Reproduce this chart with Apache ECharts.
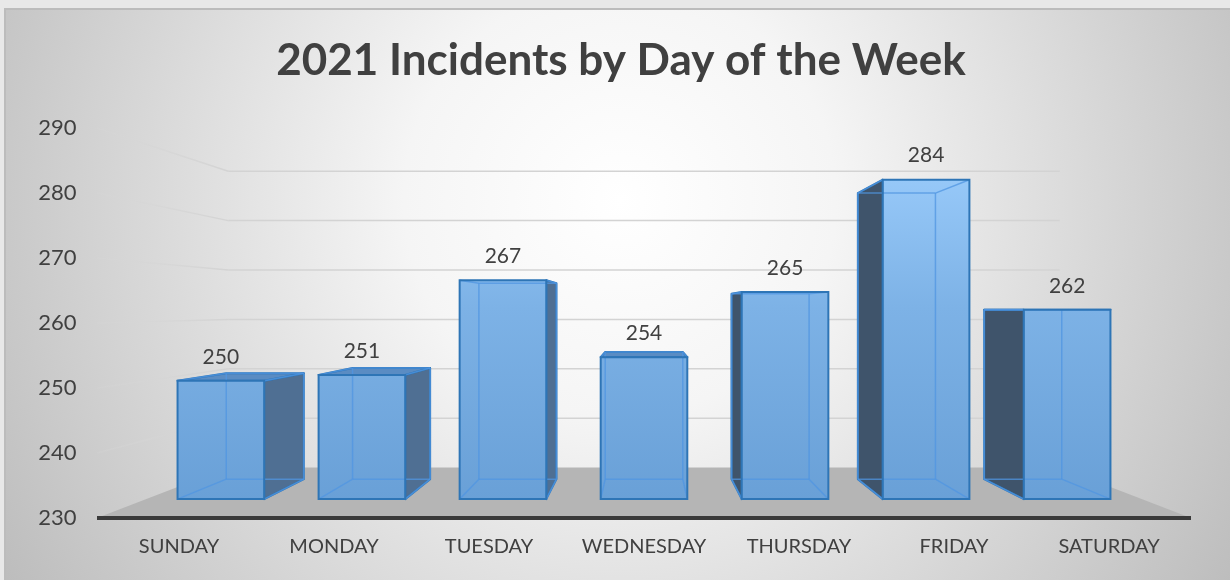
<!DOCTYPE html>
<html>
<head>
<meta charset="UTF-8"/>
<title>2021 Incidents by Day of the Week</title>
<script src="https://cdn.jsdelivr.net/npm/echarts@6/dist/echarts.min.js"></script>
<style>
  html, body { margin: 0; padding: 0; background: #e8e8e8; }
  #chart { width: 1230px; height: 580px; }
</style>
</head>
<body>
<div id="chart"></div>
<script>
// data
var days = ['SUNDAY', 'MONDAY', 'TUESDAY', 'WEDNESDAY', 'THURSDAY', 'FRIDAY', 'SATURDAY'];
var incidents = [250, 251, 267, 254, 265, 284, 262];
var yTicks = [230, 240, 250, 260, 270, 280, 290];

// fake 3d: one vanishing point, every depth is a scale toward it
var EYE_CAT = 3;        // middle category
var EYE_VALUE = 262.3;  // eye height, in axis units
var K_FRONT = 0.91;     // bar front face
var K_BACK = 0.815;     // bar back face
var K_WALL = 0.76;      // back wall
var FONT = 'Lato, "Open Sans", sans-serif';

function proj(vp, x, y, k) {
  return [vp[0] + (x - vp[0]) * k, vp[1] + (y - vp[1]) * k];
}

function renderFloor(params, api) {
  var band = api.size([1, 0])[0];
  var vp = api.coord([EYE_CAT, EYE_VALUE]);
  var x0 = api.coord([0, yTicks[0]])[0] - band / 2 - 4.5;
  var x1 = api.coord([days.length - 1, yTicks[0]])[0] + band / 2 + 4.5;
  var yb = api.coord([0, yTicks[0]])[1];
  var children = [];
  yTicks.slice(1).forEach(function (v) {
    var y = api.coord([0, v])[1];
    var a = proj(vp, x0, y, K_WALL), b = proj(vp, x1, y, K_WALL);
    children.push({
      type: 'polyline',
      shape: { points: [[x0, y], a] },
      style: {
        fill: null, lineWidth: 1.5,
        stroke: new echarts.graphic.LinearGradient(x0, 0, a[0], 0, [
          { offset: 0, color: 'rgba(215,215,215,0.2)' },
          { offset: 1, color: '#d3d3d3' }
        ], true)
      }
    });
    children.push({
      type: 'line',
      shape: { x1: a[0], y1: a[1], x2: b[0], y2: b[1] },
      style: { stroke: '#d3d3d3', lineWidth: 1.5 }
    });
  });
  var bl = proj(vp, x0, yb, K_WALL), br = proj(vp, x1, yb, K_WALL);
  children.push({
    type: 'polygon',
    shape: { points: [[x0, yb], bl, br, [x1, yb]] },
    style: { fill: '#b5b5b5' }
  });
  children.push({
    type: 'line',
    shape: { x1: x0, y1: yb, x2: x1, y2: yb },
    style: { stroke: '#3a3a3a', lineWidth: 4 }
  });
  return { type: 'group', children: children };
}

var frontFill = new echarts.graphic.LinearGradient(0, 150, 0, 500, [
  { offset: 0, color: '#9ccdfc' },
  { offset: 0.45, color: '#7db2e6' },
  { offset: 1, color: '#69a0d7' }
], true);

function renderBar(params, api) {
  var cat = api.value(0), val = api.value(1);
  var band = api.size([1, 0])[0];
  var hw = band * 0.307;
  var top = api.coord([cat, val]);
  var base = api.coord([cat, yTicks[0]]);
  var vp = api.coord([EYE_CAT, EYE_VALUE]);
  var xl = top[0] - hw, xr = top[0] + hw;
  function box(k) {
    return {
      tl: proj(vp, xl, top[1], k), tr: proj(vp, xr, top[1], k),
      br: proj(vp, xr, base[1], k), bl: proj(vp, xl, base[1], k)
    };
  }
  var F = box(K_FRONT), B = box(K_BACK);
  var edge = '#2e75b6';
  var children = [];

  if (top[0] < vp[0] - 1) {
    children.push({
      type: 'polygon',
      shape: { points: [F.tr, B.tr, B.br, F.br] },
      style: { fill: '#4f6f93', stroke: edge, lineWidth: 2, lineJoin: 'round' }
    });
  } else if (top[0] > vp[0] + 1) {
    children.push({
      type: 'polygon',
      shape: { points: [F.tl, B.tl, B.bl, F.bl] },
      style: { fill: '#3f546b', stroke: edge, lineWidth: 2, lineJoin: 'round' }
    });
  }
  if (val < EYE_VALUE) {
    children.push({
      type: 'polygon',
      shape: { points: [F.tl, F.tr, B.tr, B.tl] },
      style: { fill: '#5a8cc3', stroke: edge, lineWidth: 2, lineJoin: 'round' }
    });
  }
  children.push({
    type: 'polygon',
    shape: { points: [F.tl, F.tr, F.br, F.bl] },
    style: { fill: frontFill }
  });
  // edges seen through the front face
  var hidden = [[B.tl, B.tr], [B.tr, B.br], [B.br, B.bl], [B.bl, B.tl],
                [F.tl, B.tl], [F.tr, B.tr], [F.br, B.br], [F.bl, B.bl]];
  hidden.forEach(function (s) {
    children.push({
      type: 'line',
      shape: { x1: s[0][0], y1: s[0][1], x2: s[1][0], y2: s[1][1] },
      style: { stroke: 'rgba(80,150,225,0.75)', lineWidth: 1.5 }
    });
  });
  children.push({
    type: 'polygon',
    shape: { points: [F.tl, F.tr, F.br, F.bl] },
    style: { fill: null, stroke: edge, lineWidth: 2 }
  });
  children.push({
    type: 'text',
    x: (F.tl[0] + F.tr[0]) / 2,
    y: F.tl[1] - 24,
    style: {
      text: String(val), fill: '#404040', font: '21px ' + FONT,
      align: 'center', verticalAlign: 'middle'
    }
  });
  return { type: 'group', children: children };
}

var chart = echarts.init(document.getElementById('chart'));
chart.setOption({
  backgroundColor: '#e8e8e8',
  animation: false,
  graphic: [{
    type: 'rect',
    z: -100,
    shape: { x: 5, y: 9, width: 1240, height: 590 },
    style: {
      fill: new echarts.graphic.RadialGradient(620, 200, 720, [
        { offset: 0, color: '#ffffff' },
        { offset: 0.3, color: '#f5f5f5' },
        { offset: 1, color: '#bdbdbd' }
      ], true),
      stroke: '#bcbcbc', lineWidth: 2
    }
  }],
  title: {
    text: '2021 Incidents by Day of the Week',
    left: 616,
    textAlign: 'center',
    top: 34,
    textStyle: { fontFamily: FONT, fontWeight: 'bold', fontSize: 44, color: '#404040' }
  },
  grid: { left: 101.5, width: 1085, top: 128, height: 390 },
  xAxis: {
    type: 'category',
    data: days,
    axisLine: { show: false },
    axisTick: { show: false },
    axisLabel: { interval: 0, margin: 19, fontSize: 20, color: '#404040', fontFamily: FONT }
  },
  yAxis: {
    type: 'value',
    min: yTicks[0],
    max: yTicks[yTicks.length - 1],
    interval: 10,
    axisLine: { show: false },
    axisTick: { show: false },
    splitLine: { show: false },
    axisLabel: { margin: 25, fontSize: 22, color: '#404040', fontFamily: FONT }
  },
  series: [{
    type: 'custom',
    silent: true,
    clip: false,
    z: 1,
    renderItem: renderFloor,
    data: [[0, yTicks[0]]]
  }, {
    type: 'custom',
    clip: false,
    z: 2,
    renderItem: renderBar,
    data: incidents.map(function (v, i) { return [i, v]; })
  }]
});
</script>
</body>
</html>
